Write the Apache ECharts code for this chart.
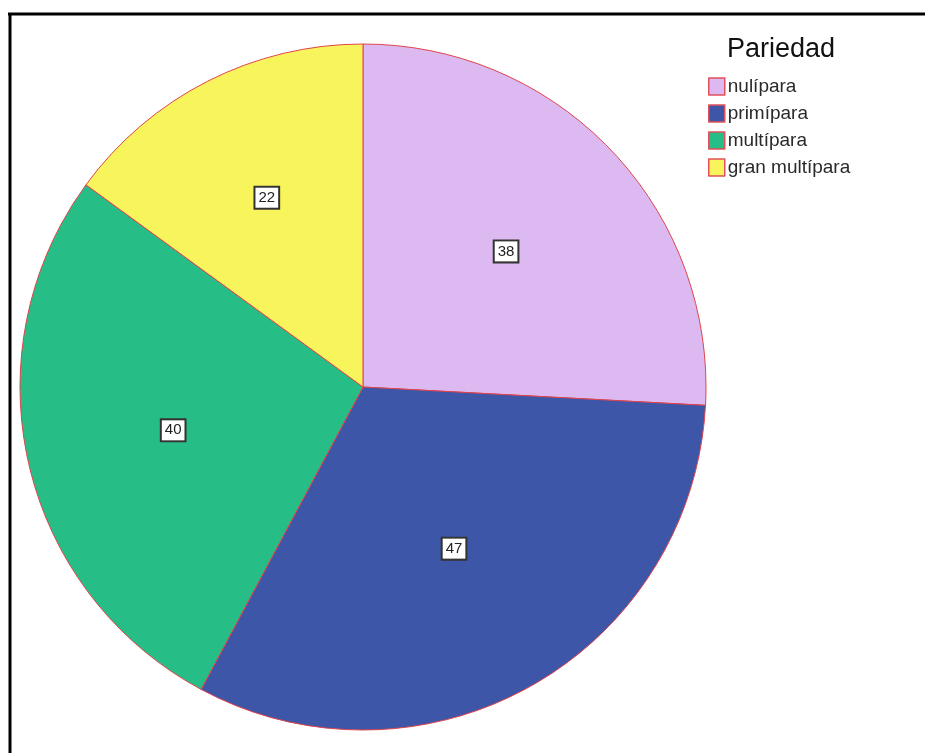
<!DOCTYPE html>
<html>
<head>
<meta charset="utf-8">
<script src="https://cdn.jsdelivr.net/npm/echarts@6/dist/echarts.min.js"></script>
<style>html,body{margin:0;padding:0;background:#fff;}#c{width:925px;height:753px;}</style>
</head>
<body>
<div id="c"></div>
<script>
const legendTitle = 'Pariedad';
const categories = ['nulípara', 'primípara', 'multípara', 'gran multípara'];
const values = [38, 47, 40, 22];
const colors = ['#dcb9f1', '#3d56a8', '#27bd87', '#f8f45c'];

const chart = echarts.init(document.getElementById('c'));
const font = '"Liberation Sans", Arial, sans-serif';
const R = 343;
const total = values.reduce((a, b) => a + b, 0);

// place each label near the sector's centroid (as SPSS does), as an offset from the default inside position
let acc = 0;
const labelOffsets = values.map(v => {
  const ang = v / total * 2 * Math.PI;
  const mid = Math.PI / 2 - (acc + ang / 2);
  acc += ang;
  const a = ang / 2;
  const dCent = (2 / 3) * R * Math.sin(a) / a;
  const d = dCent * 0.95 - R / 2;
  return [d * Math.cos(mid), -d * Math.sin(mid)];
});

chart.setOption({
  animation: false,
  backgroundColor: '#fff',
  title: {
    text: legendTitle,
    left: 727, top: 36,
    padding: 0,
    textStyle: { fontFamily: font, fontSize: 27, fontWeight: 'normal', color: '#111' }
  },
  legend: {
    orient: 'vertical',
    left: 708, top: 77,
    padding: 0,
    itemWidth: 16, itemHeight: 17, itemGap: 8,
    icon: 'rect',
    data: categories,
    itemStyle: { borderColor: '#e0505a', borderWidth: 1.5 },
    textStyle: { fontFamily: font, fontSize: 19, color: '#2a2a2a', padding: [0, 0, 0, -2] }
  },
  graphic: [
    { type: 'line', shape: { x1: 8, y1: 14, x2: 925, y2: 14 }, style: { stroke: '#000', lineWidth: 3 } },
    { type: 'line', shape: { x1: 10, y1: 13, x2: 10, y2: 753 }, style: { stroke: '#000', lineWidth: 3 } }
  ],
  series: [{
    type: 'pie',
    center: [363, 387],
    radius: R,
    startAngle: 90,
    clockwise: true,
    avoidLabelOverlap: false,
    itemStyle: { borderColor: '#e0444c', borderWidth: 1 },
    emphasis: { disabled: true },
    label: {
      show: true,
      position: 'inside',
      formatter: '{c}',
      fontFamily: font,
      fontSize: 15,
      color: '#222',
      backgroundColor: '#fff',
      borderColor: '#333',
      borderWidth: 2,
      padding: [3, 3, 2, 3]
    },
    labelLine: { show: false },
    data: categories.map((n, i) => ({
      name: n, value: values[i],
      itemStyle: { color: colors[i] },
      label: { offset: labelOffsets[i] }
    }))
  }]
});
</script>
</body>
</html>
